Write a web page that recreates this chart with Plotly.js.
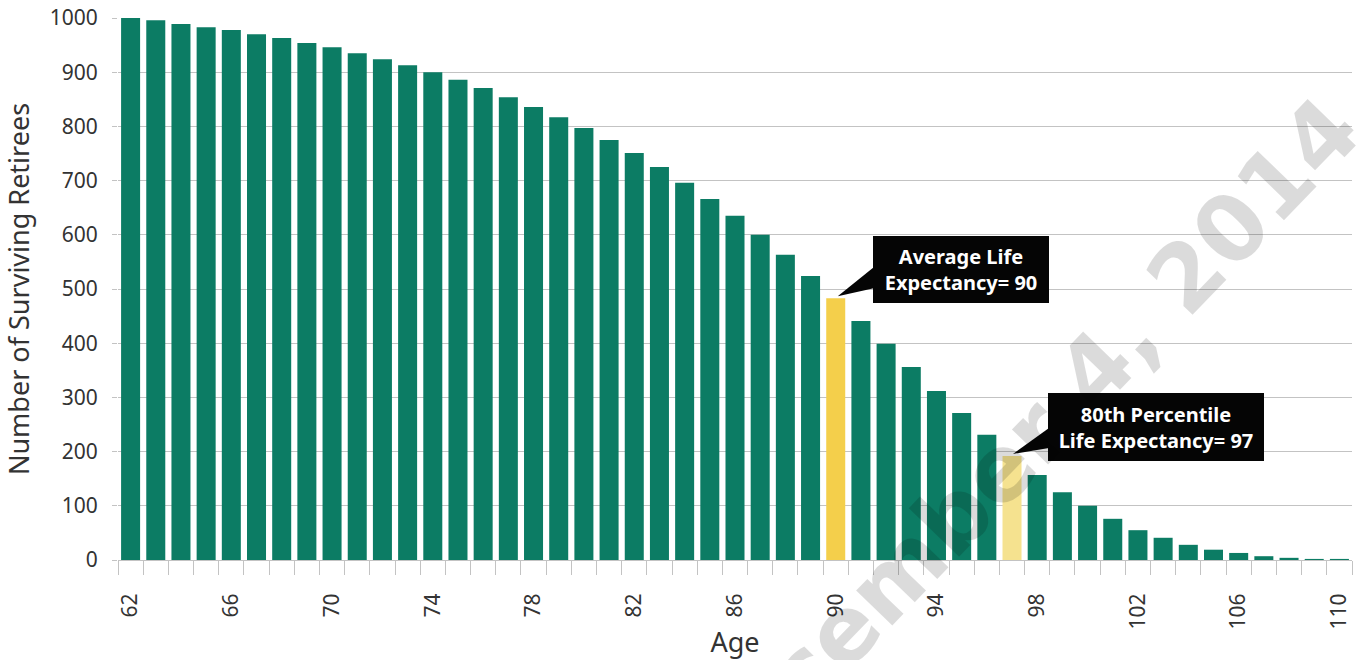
<!DOCTYPE html>
<html>
<head>
<meta charset="utf-8">
<script src="https://cdn.plot.ly/plotly-3.0.1.min.js"></script>
<style>
  html, body { margin: 0; padding: 0; background: #ffffff; }
  #chart { width: 1358px; height: 660px; }
</style>
</head>
<body>
<div id="chart"></div>
<script>
// ---- data ----
const ages = [62, 63, 64, 65, 66, 67, 68, 69, 70, 71, 72, 73, 74, 75, 76, 77, 78, 79, 80,
              81, 82, 83, 84, 85, 86, 87, 88, 89, 90, 91, 92, 93, 94, 95, 96, 97, 98, 99,
              100, 101, 102, 103, 104, 105, 106, 107, 108, 109, 110];
const survivors = [1000, 996, 989, 983, 978, 970, 963, 954, 946, 935, 924, 913, 900, 886, 871,
                   854, 836, 817, 797, 775, 751, 725, 696, 666, 635, 600, 563, 524, 483, 441,
                   399, 356, 312, 271, 231, 192, 157, 125, 100, 76, 55, 41, 28, 19, 13, 7, 4, 2, 2];
const tickAges = [62, 66, 70, 74, 78, 82, 86, 90, 94, 98, 102, 106, 110];
const tickLabels = ["62", "66", "70", "74", "78", "82", "86", "90", "94", "98", "102", "106", "110"];
const avgAge = 90;
const p80Age = 97;
const avgText = "Average Life<br>Expectancy= " + avgAge;
const p80Text = "80th Percentile<br>Life Expectancy= " + p80Age;
const watermarkText = "December 4, 2014";
const xTitle = "Age";
const yTitle = "Number of Surviving Retirees";

// ---- styles ----
const GREEN = "#0c7c64";
const YELLOW = "#f4cf4b";
const PALE = "#f5e28f";
const GRID = "#c3c3c3";
const TXT = "#333333";
const FONT = '"Noto Sans", "DejaVu Sans", sans-serif';

const colors = ages.map(a => a === avgAge ? YELLOW : (a === p80Age ? PALE : GREEN));
const valueAt = a => survivors[ages.indexOf(a)];

const trace = {
  type: "bar",
  x: ages,
  y: survivors,
  marker: { color: colors, line: { width: 0 } },
  hoverinfo: "x+y"
};

function callout(age, text, w, h, dx, dy) {
  return {
    x: age, y: valueAt(age), xref: "x", yref: "y",
    text: text, showarrow: false,
    xanchor: "center", yanchor: "middle",
    xshift: dx, yshift: dy,
    width: w, height: h,
    bgcolor: "#050505", borderwidth: 0, borderpad: 0,
    font: { family: FONT, size: 20, color: "#ffffff", weight: "bold" },
    align: "center"
  };
}
function pointer(age, path) {
  return {
    type: "path", xref: "x", yref: "y",
    xsizemode: "pixel", ysizemode: "pixel",
    xanchor: age, yanchor: valueAt(age),
    path: path,
    fillcolor: "#050505", line: { width: 0 }, layer: "above"
  };
}

const layout = {
  width: 1358, height: 660,
  margin: { l: 118, r: 6, t: 18, b: 100, pad: 0 },
  paper_bgcolor: "#ffffff", plot_bgcolor: "#ffffff",
  showlegend: false,
  bargap: 0.245,
  font: { family: FONT, color: TXT },
  xaxis: {
    type: "linear",
    range: [61.5, 110.5],
    tickmode: "array", tickvals: tickAges, ticktext: tickLabels,
    tickangle: -90,
    ticks: "", showgrid: false, zeroline: false,
    showline: true, linecolor: GRID, linewidth: 1,
    tickfont: { family: FONT, size: 21, color: TXT },
    ticklabelstandoff: 24,
    minor: { ticks: "outside", tick0: 61.5, dtick: 1, ticklen: 14, tickcolor: GRID, tickwidth: 1, showgrid: false },
    title: { text: xTitle, font: { family: FONT, size: 27, color: TXT }, standoff: 4 },
    automargin: false
  },
  yaxis: {
    range: [0, 1000], dtick: 100, tick0: 0,
    showgrid: true, gridcolor: GRID, gridwidth: 1,
    zeroline: false, showline: false,
    ticks: "outside", ticklen: 5, tickcolor: GRID, tickwidth: 1,
    tickfont: { family: FONT, size: 21, color: TXT },
    ticklabelstandoff: 10,
    title: { text: yTitle, font: { family: FONT, size: 27, color: TXT }, standoff: 16 },
    automargin: false
  },
  shapes: [
    pointer(avgAge, "M 2 2 L 38 31 L 38 10 Z"),
    pointer(p80Age, "M 1 2 L 37 28 L 37 8 Z")
  ],
  annotations: [
    callout(avgAge, avgText, 176, 67, 125, 29),
    callout(p80Age, p80Text, 216, 68, 144, 29),
    {
      xref: "paper", yref: "paper", x: 0.7269, y: 0.1956,
      xanchor: "center", yanchor: "middle",
      text: watermarkText, showarrow: false, textangle: -46,
      font: { family: '"DejaVu Sans", sans-serif', size: 92, color: "rgba(0,0,0,0.14)", weight: "bold" }
    }
  ]
};

Plotly.newPlot("chart", [trace], layout, { displayModeBar: false, staticPlot: true });
</script>
</body>
</html>
